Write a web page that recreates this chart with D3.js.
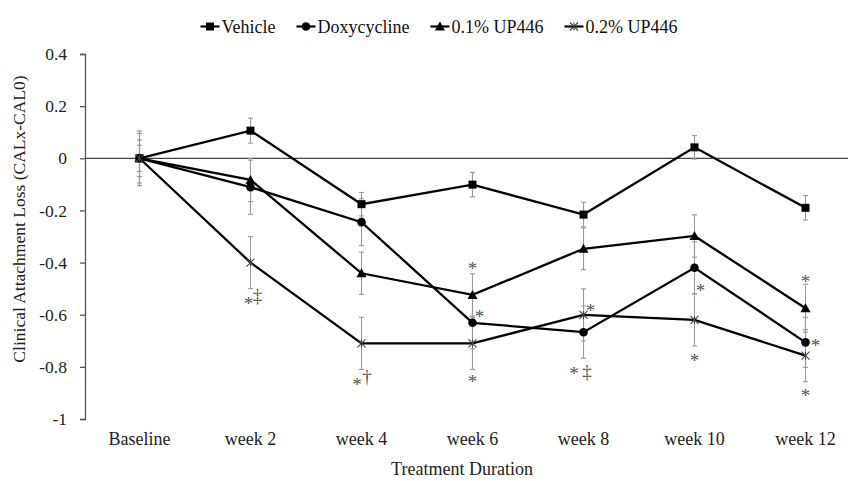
<!DOCTYPE html>
<html>
<head>
<meta charset="utf-8">
<script src="https://cdn.jsdelivr.net/npm/d3@7"></script>
<style>
  html, body { margin: 0; padding: 0; background: #fff; }
  svg { display: block; }
  svg text { font-family: "Liberation Serif", "Times New Roman", serif !important; }
</style>
</head>
<body>
<svg id="chart" width="848" height="481"></svg>
<script>
// ---------- data ----------
const categories = ["Baseline", "week 2", "week 4", "week 6", "week 8", "week 10", "week 12"];
const seriesNames = ["Vehicle", "Doxycycline", "0.1% UP446", "0.2% UP446"];

const vehicleValues = [0, 0.106, -0.176, -0.101, -0.216, 0.042, -0.19];
const vehicleErrors = [0.05, 0.048, 0.045, 0.047, 0.047, 0.045, 0.047];

const doxyValues = [0, -0.111, -0.245, -0.631, -0.667, -0.42, -0.706];
const doxyErrors = [0.07, 0.104, 0.09, 0.1, 0.1, 0.1, 0.096];

const up01Values = [0, -0.083, -0.441, -0.524, -0.347, -0.298, -0.575];
const up01Errors = [0.095, 0.083, 0.081, 0.081, 0.08, 0.081, 0.092];

const up02Values = [0, -0.40, -0.71, -0.71, -0.601, -0.62, -0.757];
const up02Errors = [0.105, 0.1, 0.1, 0.1, 0.1, 0.1, 0.1];

const yTicks = [0.4, 0.2, 0, -0.2, -0.4, -0.6, -0.8, -1];
const yTickLabels = ["0.4", "0.2", "0", "-0.2", "-0.4", "-0.6", "-0.8", "-1"];

// significance marks: category, y value, text
const annoCats   = ["week 2", "week 2", "week 4", "week 4", "week 6", "week 6", "week 6", "week 8", "week 8", "week 8", "week 10", "week 10", "week 12", "week 12", "week 12"];
const annoValues = [-0.543, -0.532, -0.854, -0.839, -0.41, -0.594, -0.843, -0.57, -0.812, -0.82, -0.494, -0.762, -0.46, -0.704, -0.896];
const annoTexts  = ["*", "‡", "*", "†", "*", "*", "*", "*", "*", "‡", "*", "*", "*", "*", "*"];

// ---------- layout ----------
const annoOffsets = [-2, 7, -4.5, 5.5, 0, 7, 0, 7, -9.5, 3.5, 6, 0, 0, 10, 0];
const svg = d3.select("#chart");
const x = d3.scalePoint().domain(categories).range([139.5, 805.5]);
const y = d3.scaleLinear().domain([-1, 0.4]).range([419, 54]);
const axisX = 85;

const series = [
  { name: seriesNames[0], values: vehicleValues, errors: vehicleErrors, marker: "square" },
  { name: seriesNames[1], values: doxyValues, errors: doxyErrors, marker: "circle" },
  { name: seriesNames[2], values: up01Values, errors: up01Errors, marker: "triangle" },
  { name: seriesNames[3], values: up02Values, errors: up02Errors, marker: "star" }
];

// y axis
const yAxis = d3.axisLeft(y).tickValues(yTicks).tickSize(5).tickPadding(13)
  .tickFormat((d, i) => yTickLabels[i]);
const gy = svg.append("g").attr("transform", `translate(${axisX},0)`).call(yAxis);
gy.attr("font-family", "Liberation Serif");
gy.select(".domain").attr("stroke", "#555").attr("stroke-width", 1.3);
gy.selectAll(".tick line").attr("stroke", "#555").attr("stroke-width", 1.3);
gy.selectAll(".tick text").attr("fill", "#222").attr("font-size", 17.5);

// zero line
svg.append("line").attr("x1", axisX).attr("x2", 848)
  .attr("y1", y(0)).attr("y2", y(0)).attr("stroke", "#444").attr("stroke-width", 1.3);

// x labels
svg.append("g").selectAll("text").data(categories).join("text")
  .attr("x", d => x(d)).attr("y", 445).attr("text-anchor", "middle")
  .attr("font-size", 18).attr("fill", "#222").text(d => d);

// axis titles
svg.append("text").attr("x", 462).attr("y", 475).attr("text-anchor", "middle")
  .attr("font-size", 18).attr("fill", "#222").text("Treatment Duration");
svg.append("text").attr("transform", "translate(25,219) rotate(-90)")
  .attr("text-anchor", "middle").attr("font-size", 17.5).attr("fill", "#222")
  .text("Clinical Attachment Loss (CALx-CAL0)");

// error bars
const eb = svg.append("g").attr("stroke", "#999").attr("stroke-width", 1.1);
series.forEach(s => {
  categories.forEach((c, i) => {
    const cx = x(c), top = y(s.values[i] + s.errors[i]), bot = y(s.values[i] - s.errors[i]);
    eb.append("line").attr("x1", cx).attr("x2", cx).attr("y1", top).attr("y2", bot);
    eb.append("line").attr("x1", cx - 2.5).attr("x2", cx + 2.5).attr("y1", top).attr("y2", top);
    eb.append("line").attr("x1", cx - 2.5).attr("x2", cx + 2.5).attr("y1", bot).attr("y2", bot);
  });
});

// lines
const line = d3.line().x((d, i) => x(categories[i])).y(d => y(d));
series.forEach(s => {
  svg.append("path").datum(s.values).attr("d", line)
    .attr("fill", "none").attr("stroke", "#000").attr("stroke-width", 2.3)
    .attr("stroke-linejoin", "miter");
});

// markers
function drawMarker(g, type, cx, cy) {
  if (type === "square") {
    g.append("rect").attr("x", cx - 4).attr("y", cy - 4).attr("width", 8).attr("height", 8).attr("fill", "#000");
  } else if (type === "circle") {
    g.append("circle").attr("cx", cx).attr("cy", cy).attr("r", 4.3).attr("fill", "#000");
  } else if (type === "triangle") {
    g.append("path").attr("d", `M${cx},${cy - 5}L${cx + 5},${cy + 4}L${cx - 5},${cy + 4}Z`).attr("fill", "#000");
  } else {
    g.append("path").attr("d", `M${cx - 4},${cy - 4}L${cx + 4},${cy + 4}M${cx - 4},${cy + 4}L${cx + 4},${cy - 4}M${cx},${cy - 4}L${cx},${cy + 4}`)
      .attr("stroke", "#444").attr("stroke-width", 1.1).attr("fill", "none");
  }
}
const mg = svg.append("g");
series.forEach(s => {
  s.values.forEach((v, i) => drawMarker(mg, s.marker, x(categories[i]), y(v)));
});

// annotations
const annoG = svg.append("g");
annoCats.forEach((c, i) => {
  const t = annoTexts[i];
  const cy = y(annoValues[i]);
  annoG.append("text").attr("x", x(c) + annoOffsets[i]).attr("y", cy + (t === "*" ? 10 : 5.5))
    .attr("text-anchor", "middle").attr("font-size", 19).attr("fill", "#555").text(t);
});

// legend
const legend = svg.append("g");
const legendY = 26.5;
const lineLen = 19, textGap = 2, itemGap = 21;
let cursor = 0;
series.forEach(s => {
  const g = legend.append("g");
  g.append("line").attr("x1", cursor).attr("x2", cursor + lineLen)
    .attr("y1", legendY).attr("y2", legendY).attr("stroke", "#000").attr("stroke-width", 2.2);
  drawMarker(g, s.marker, cursor + lineLen / 2, legendY);
  const t = g.append("text").attr("x", cursor + lineLen + textGap).attr("y", legendY + 6)
    .attr("font-size", 18).attr("fill", "#111").text(s.name);
  const w = t.node().getComputedTextLength();
  cursor += lineLen + textGap + w + itemGap;
});
const totalW = cursor - itemGap;
legend.attr("transform", `translate(${439 - totalW / 2},0)`);
</script>
</body>
</html>
